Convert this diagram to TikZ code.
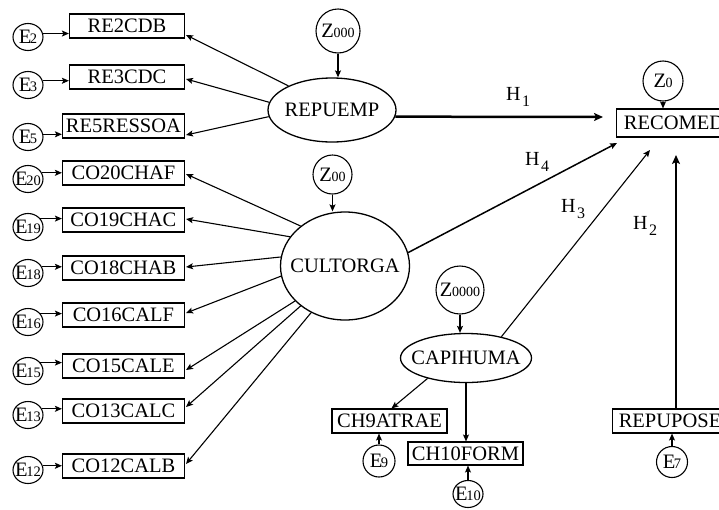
\documentclass[tikz,border=0pt]{standalone}
\usepackage{fontspec}
\setmainfont{Liberation Serif}
\usetikzlibrary{arrows.meta,calc,shapes.geometric}
\newcommand\errlab[1]{E\kern-1.5pt{\fontsize{14.5}{16}\selectfont #1}}
\newcommand\zlab[1]{Z\kern-0.5pt{\fontsize{14}{16}\selectfont #1}}
\newcommand\hlabel[1]{H\kern1.5pt\raisebox{-6pt}{\fontsize{16}{18}\selectfont #1}}
\begin{document}
\begin{tikzpicture}[x=1pt,y=-1pt,
  every node/.style={font=\fontsize{20.5}{24}\selectfont, inner sep=0pt},
  obsbox/.style={draw, line width=1.1pt, minimum height=24pt, minimum width=122pt},
  errc/.style={draw, ellipse, line width=1.1pt, minimum width=30pt, minimum height=27pt},
  distc/.style={draw, circle, line width=1.1pt},
  latent/.style={draw, ellipse, line width=1.3pt},
  arr/.style={line width=1.1pt, -{Stealth[length=7pt,width=6pt,inset=1.5pt]}},
  thickarr/.style={line width=2.5pt, -{Stealth[length=9pt,width=8pt,inset=2pt]}},
  hlab/.style={anchor=base west, font=\fontsize{20}{24}\selectfont},
]
\fill[white] (0,0) rectangle (719,509);
\useasboundingbox (0,0) rectangle (719,509);

% observed indicators on the left
\node[obsbox, minimum width=115pt, anchor=east] (re2) at (185,26) {RE2CDB};
\node[obsbox, minimum width=115pt, anchor=east] (re3) at (185,77) {RE3CDC};
\node[obsbox, anchor=east] (re5) at (185,126) {RE5RESSOA};
\node[obsbox, anchor=east] (co20) at (185,173) {CO20CHAF};
\node[obsbox, anchor=east] (co19) at (185,220) {CO19CHAC};
\node[obsbox, anchor=east] (co18) at (185,268) {CO18CHAB};
\node[obsbox, anchor=east] (co16) at (185,315) {CO16CALF};
\node[obsbox, anchor=east] (co15) at (185,366) {CO15CALE};
\node[obsbox, anchor=east] (co13) at (185,411) {CO13CALC};
\node[obsbox, anchor=east] (co12) at (185,466) {CO12CALB};

% error terms
\node[errc] (e2) at (28,37) {\makebox[0pt]{\errlab{2}}};
\node[errc] (e3) at (28,85) {\makebox[0pt]{\errlab{3}}};
\node[errc] (e5) at (28,137) {\makebox[0pt]{\errlab{5}}};
\node[errc] (e20) at (28,179) {\makebox[0pt]{\errlab{20}}};
\node[errc] (e19) at (28,227) {\makebox[0pt]{\errlab{19}}};
\node[errc] (e18) at (28,273) {\makebox[0pt]{\errlab{18}}};
\node[errc] (e16) at (28,322) {\makebox[0pt]{\errlab{16}}};
\node[errc] (e15) at (28,371) {\makebox[0pt]{\errlab{15}}};
\node[errc] (e13) at (28,415) {\makebox[0pt]{\errlab{13}}};
\node[errc] (e12) at (28,470) {\makebox[0pt]{\errlab{12}}};

\draw[arr] (e2.13) -- (re2.west |- e2.13);
\draw[arr] (e3.16) -- (re3.west |- e3.16);
\draw[arr] (e5.10) -- (re5.west |- e5.10);
\draw[arr] (e20.24) -- (co20.west |- e20.24);
\draw[arr] (e19.34) -- (co19.west |- e19.34);
\draw[arr] (e18.24) -- (co18.west |- e18.24);
\draw[arr] (e16.34) -- (co16.west |- e16.34);
\draw[arr] (e15.34) -- (co15.west |- e15.34);
\draw[arr] (e13.24) -- (co13.west |- e13.24);
\draw[arr] (e12.16) -- (co12.west |- e12.16);

% latent variables
\node[latent, minimum width=128pt, minimum height=64pt] (repuemp) at (332,110) {\makebox[0pt]{REPUEMP}};
\node[latent, minimum width=129pt, minimum height=108pt] (cultorga) at (345,266) {\makebox[0pt]{CULTORGA}};
\node[latent, minimum width=131pt, minimum height=49pt] (capihuma) at (466,358) {\makebox[0pt]{CAPIHUMA}};

% disturbances
\node[distc, minimum size=44pt] (z000) at (338,31) {\makebox[0pt]{\zlab{000}}};
\node[distc, minimum size=39pt] (z00) at (332.5,174.5) {\makebox[0pt]{\zlab{00}}};
\node[distc, minimum size=48pt] (z0000) at (460,290) {\makebox[0pt]{\zlab{0000}}};
\node[distc, minimum size=40pt] (z0) at (663,81) {\makebox[0pt]{\zlab{0}}};

% other observed
\node[obsbox, minimum width=115pt, minimum height=28pt, anchor=west] (recomed) at (616,123) {RECOMED};
\node[obsbox, minimum width=115pt, anchor=west] (repupose) at (612,421) {REPUPOSE};
\node[obsbox, minimum width=115pt] (ch9) at (389.5,421) {CH9ATRAE};
\node[obsbox, minimum width=115pt, minimum height=23pt] (ch10) at (465.5,453.5) {CH10FORM};

\node[errc, minimum width=32pt, minimum height=32pt] (e9) at (379,461) {\makebox[0pt]{\errlab{9}}};
\node[errc] (e10) at (468,494) {\makebox[0pt]{\errlab{10}}};
\node[errc, minimum width=31pt, minimum height=31pt] (e7) at (672,462) {\makebox[0pt]{\errlab{7}}};

% disturbance arrows
\draw[arr] (z000) -- (z000 |- repuemp.north);
\draw[arr] (z00) -- (z00 |- cultorga.north);
\draw[arr] (z0000) -- (z0000 |- capihuma.north);
\draw[arr] (z0) -- (z0 |- recomed.north);

% error arrows (bottom)
\draw[arr] (e9) -- (e9 |- ch9.south);
\draw[arr] (e10) -- (e10 |- ch10.south);
\draw[arr] (e7) -- (e7 |- repupose.south);

% loadings
\draw[arr] (repuemp.151.4) -- ($(re2.east)+(1,9)$);
\draw[arr] (repuemp.173.8) -- ($(re3.east)+(1,2)$);
\draw[arr] (repuemp.186.2) -- ($(re5.east)+(1,9)$);

\draw[arr] (cultorga.138.1) -- ($(co20.east)+(1,1)$);
\draw[arr] (cultorga.152.5) -- ($(co19.east)+(1,-1)$);
\draw[arr] (cultorga.172.2) -- ($(co18.east)+(1,-1)$);
\draw[arr] (cultorga.189.2) -- ($(co16.east)+(1,-2)$);
\draw[arr] (cultorga.215) -- ($(co15.east)+(1,4)$);
\draw[arr] (cultorga.222.2) -- ($(co13.east)+(1,-4)$);
\draw[arr] (cultorga.234.8) -- ($(co12.east)+(1,-2)$);

\draw[arr] (capihuma.208.3) -- ($(ch9.north)+(2,0)$);
\draw[arr] (capihuma.south) -- (capihuma.south |- ch10.north);

% structural paths
\coordinate (tipH1) at (603,117);
\coordinate (tipH4) at (617,143);
\coordinate (tipH3) at (650,150);
\coordinate (tipH2) at (676,155);
\draw[thickarr] (repuemp.-6.4) -- (tipH1);
\draw[arr, line width=1.5pt] (cultorga.12.4) -- (tipH4);
\draw[arr] (capihuma.31.7) -- (tipH3);
\draw[thickarr] (repupose.north -| tipH2) -- (tipH2);

\node[hlab] (h1) at (506,100) {\hlabel{1}};
\node[hlab] (h4) at (525,165) {\hlabel{4}};
\node[hlab] (h3) at (561,212) {\hlabel{3}};
\node[hlab] (h2) at (633,229) {\hlabel{2}};
\end{tikzpicture}
\end{document}
